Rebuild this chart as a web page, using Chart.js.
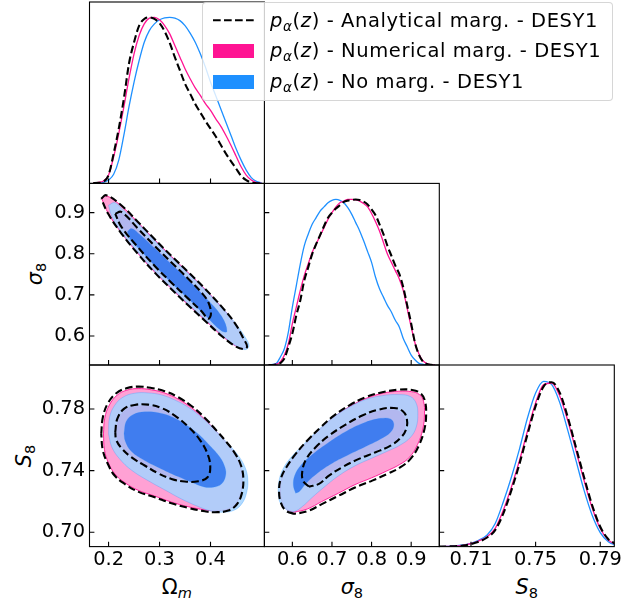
<!DOCTYPE html>
<html><head><meta charset="utf-8">
<script src="https://cdn.jsdelivr.net/npm/chart.js@4.4.1/dist/chart.umd.min.js"></script>
<style>
html,body{margin:0;padding:0;background:#fff;}
#wrap{position:relative;width:632px;height:606px;overflow:hidden;background:#fff;font-family:'DejaVu Sans',sans-serif;color:#000;}
#wrap canvas{position:absolute;left:0;top:0;}
.ax{position:absolute;font-size:20.8px;line-height:20.8px;white-space:nowrap;}
.ax sub{font-size:70%;vertical-align:baseline;position:relative;top:0.28em;}
.it{font-style:italic;}
#legend{position:absolute;left:202px;top:2px;width:411px;height:99px;box-sizing:border-box;border:1px solid rgba(204,204,204,0.8);border-radius:4px;background:rgba(255,255,255,0.8);z-index:10;}
.lt{position:absolute;left:67px;font-size:19.5px;line-height:19.5px;letter-spacing:0.6px;white-space:nowrap;}
.lt sub{font-size:70%;font-style:italic;vertical-align:baseline;position:relative;top:0.3em;}
.patch{position:absolute;left:10px;width:41px;height:14px;}
</style></head>
<body>
<div id="wrap">
  <div class="ax" style="left:176.9px;top:577.4px;transform:translateX(-50%);">Ω<sub class="it">m</sub></div>
  <div class="ax" style="left:351.9px;top:577.4px;transform:translateX(-50%);"><span class="it">σ</span><sub>8</sub></div>
  <div class="ax" style="left:526.8px;top:577.4px;transform:translateX(-50%);"><span class="it">S</span><sub>8</sub></div>
  <div class="ax" style="left:35.5px;top:274.2px;transform:translate(-50%,-50%) rotate(-90deg);"><span class="it">σ</span><sub>8</sub></div>
  <div class="ax" style="left:24.5px;top:455.8px;transform:translate(-50%,-50%) rotate(-90deg);"><span class="it">S</span><sub>8</sub></div>
  <div id="legend">
    <svg style="position:absolute;left:0;top:0;" width="60" height="30"><line x1="10" y1="17.3" x2="51" y2="17.3" stroke="#000" stroke-width="2.1" stroke-dasharray="7.7 3.3"/></svg>
    <div class="patch" style="top:41px;background:rgb(255,20,147);"></div>
    <div class="patch" style="top:72.3px;background:rgb(30,144,255);"></div>
    <div class="lt" style="top:7.5px;"><span class="it">p</span><sub>α</sub>(<span class="it">z</span>) - Analytical marg. - DESY1</div>
    <div class="lt" style="top:38.2px;"><span class="it">p</span><sub>α</sub>(<span class="it">z</span>) - Numerical marg. - DESY1</div>
    <div class="lt" style="top:68.8px;"><span class="it">p</span><sub>α</sub>(<span class="it">z</span>) - No marg. - DESY1</div>
  </div>
</div>
<script>
// ---------------- data ----------------
const OMEGA_TICKS = [0.2, 0.3, 0.4];
const OMEGA_TICK_LABELS = ['0.2', '0.3', '0.4'];
const SIGMA8_TICKS = [0.6, 0.7, 0.8, 0.9];
const SIGMA8_TICK_LABELS = ['0.6', '0.7', '0.8', '0.9'];
const S8_Y_TICKS = [0.70, 0.74, 0.78];
const S8_Y_TICK_LABELS = ['0.70', '0.74', '0.78'];
const S8_X_TICKS = [0.71, 0.75, 0.79];
const S8_X_TICK_LABELS = ['0.71', '0.75', '0.79'];

// 1D marginals (normalised to peak 1)
const OMEGA_GRID = [0.17,0.18,0.19,0.20,0.21,0.22,0.23,0.24,0.25,0.26,0.27,0.28,0.29,0.30,0.31,0.32,0.33,0.34,0.35,0.36,0.37,0.38,0.39,0.40,0.41,0.42,0.43,0.44,0.45,0.46,0.47,0.48,0.49,0.50];
const OMEGA_1D_ANALYTICAL = [0.002,0.003,0.01,0.05,0.18,0.33,0.51,0.72,0.85,0.95,0.99,1.0,0.99,0.965,0.915,0.846,0.76,0.68,0.60,0.54,0.478,0.427,0.376,0.33,0.284,0.233,0.18,0.134,0.09,0.045,0.02,0.005,0.001,0.0];
const OMEGA_1D_NUMERICAL = [0.003,0.006,0.015,0.05,0.16,0.30,0.46,0.63,0.78,0.89,0.96,0.995,1.0,0.985,0.95,0.90,0.83,0.76,0.69,0.63,0.575,0.53,0.48,0.44,0.39,0.345,0.29,0.23,0.165,0.10,0.05,0.02,0.005,0.0];
const OMEGA_1D_NOMARG = [0.0,0.002,0.006,0.02,0.055,0.14,0.29,0.46,0.61,0.74,0.85,0.92,0.96,0.985,0.997,1.0,0.995,0.98,0.95,0.905,0.85,0.78,0.70,0.61,0.53,0.45,0.37,0.29,0.21,0.14,0.08,0.035,0.012,0.003];

const SIGMA8_GRID = [0.54,0.55,0.56,0.57,0.58,0.59,0.60,0.61,0.62,0.63,0.64,0.65,0.66,0.67,0.68,0.69,0.70,0.71,0.72,0.73,0.74,0.75,0.76,0.77,0.78,0.79,0.80,0.81,0.82,0.83,0.84,0.85,0.86,0.87,0.88,0.89,0.90,0.91,0.92,0.93,0.94,0.95,0.96];
const SIGMA8_1D_ANALYTICAL = [0,0,0.003,0.012,0.04,0.11,0.19,0.30,0.39,0.51,0.59,0.67,0.73,0.785,0.84,0.89,0.92,0.945,0.965,0.985,0.993,0.997,1.0,0.997,0.987,0.97,0.94,0.905,0.85,0.79,0.72,0.66,0.60,0.55,0.47,0.36,0.25,0.13,0.06,0.02,0.006,0.001,0];
const SIGMA8_1D_NUMERICAL = [0,0.001,0.005,0.02,0.06,0.13,0.25,0.35,0.45,0.54,0.61,0.68,0.73,0.78,0.83,0.88,0.92,0.955,0.98,0.99,1.0,1.0,0.997,0.99,0.975,0.955,0.915,0.865,0.81,0.74,0.67,0.62,0.57,0.52,0.45,0.34,0.23,0.13,0.065,0.025,0.008,0.002,0];
const SIGMA8_1D_NOMARG = [0,0.003,0.01,0.05,0.10,0.20,0.35,0.48,0.61,0.72,0.79,0.85,0.89,0.93,0.955,0.98,0.995,1.0,0.995,0.98,0.95,0.91,0.86,0.81,0.75,0.685,0.62,0.53,0.46,0.41,0.36,0.32,0.27,0.23,0.16,0.11,0.06,0.03,0.01,0.004,0.001,0,0];

const S8_GRID = [0.690,0.695,0.700,0.705,0.710,0.715,0.720,0.725,0.730,0.735,0.740,0.745,0.750,0.755,0.760,0.765,0.770,0.775,0.780,0.785,0.790,0.795,0.800];
const S8_1D_ANALYTICAL = [0,0.001,0.002,0.006,0.015,0.03,0.055,0.10,0.20,0.34,0.50,0.68,0.85,0.97,0.995,0.93,0.78,0.60,0.42,0.25,0.12,0.045,0.015];
const S8_1D_NUMERICAL = [0,0.001,0.003,0.008,0.018,0.035,0.06,0.11,0.22,0.36,0.52,0.70,0.87,0.98,0.99,0.91,0.76,0.58,0.40,0.235,0.11,0.04,0.012];
const S8_1D_NOMARG = [0,0.001,0.004,0.01,0.02,0.04,0.07,0.14,0.27,0.42,0.59,0.78,0.93,1.0,0.98,0.87,0.70,0.52,0.34,0.19,0.085,0.03,0.008];

// 2D contours [x, y] — Omega_m vs sigma_8
const OM_SIG_ANA_95 = [[0.1856,0.9341],[0.1954,0.9422],[0.2249,0.9178],[0.2577,0.8773],[0.2906,0.8351],[0.3234,0.7946],[0.3562,0.7556],[0.3890,0.7151],[0.4218,0.6713],[0.4480,0.6307],[0.4644,0.5942],[0.4717,0.5740],[0.4644,0.5683],[0.4480,0.5756],[0.4218,0.5999],[0.3890,0.6372],[0.3562,0.6745],[0.3234,0.7135],[0.2906,0.7540],[0.2577,0.7994],[0.2249,0.8497],[0.1987,0.8984]];
const OM_SIG_ANA_68 = [[0.2131,0.8968],[0.2249,0.9016],[0.2577,0.8611],[0.2906,0.8189],[0.3234,0.7784],[0.3562,0.7394],[0.3824,0.7054],[0.3955,0.6826],[0.4008,0.6543],[0.3955,0.6421],[0.3824,0.6599],[0.3562,0.6908],[0.3234,0.7297],[0.2906,0.7702],[0.2577,0.8157],[0.2249,0.8659]];
const OM_SIG_NUM_95 = [[0.1868,0.9335],[0.1958,0.9408],[0.2249,0.9165],[0.2577,0.8760],[0.2906,0.8338],[0.3234,0.7933],[0.3562,0.7543],[0.3890,0.7138],[0.4218,0.6700],[0.4470,0.6305],[0.4630,0.5948],[0.4700,0.5748],[0.4635,0.5695],[0.4475,0.5770],[0.4218,0.6012],[0.3890,0.6385],[0.3562,0.6758],[0.3234,0.7148],[0.2906,0.7553],[0.2577,0.8007],[0.2249,0.8510],[0.1995,0.8980]];
const OM_SIG_NUM_68 = [[0.2150,0.8960],[0.2249,0.8995],[0.2577,0.8590],[0.2906,0.8170],[0.3234,0.7765],[0.3562,0.7375],[0.3824,0.7035],[0.3945,0.6815],[0.3990,0.6550],[0.3940,0.6440],[0.3824,0.6620],[0.3562,0.6928],[0.3234,0.7316],[0.2906,0.7720],[0.2577,0.8176],[0.2249,0.8675]];
const OM_SIG_NOM_95 = [[0.2000,0.9178],[0.2118,0.9243],[0.2249,0.9114],[0.2577,0.8732],[0.2906,0.8319],[0.3234,0.7913],[0.3562,0.7524],[0.3890,0.7127],[0.4218,0.6697],[0.4480,0.6324],[0.4677,0.5975],[0.4756,0.5756],[0.4677,0.5667],[0.4480,0.5772],[0.4218,0.6032],[0.3890,0.6405],[0.3562,0.6778],[0.3234,0.7167],[0.2906,0.7573],[0.2577,0.8027],[0.2249,0.8530],[0.2066,0.8903]];
const OM_SIG_NOM_68 = [[0.2368,0.8530],[0.2446,0.8611],[0.2577,0.8505],[0.2906,0.8132],[0.3234,0.7743],[0.3562,0.7362],[0.3890,0.6948],[0.4218,0.6478],[0.4323,0.6113],[0.4218,0.6121],[0.3890,0.6510],[0.3562,0.6908],[0.3234,0.7289],[0.2906,0.7711],[0.2577,0.8148],[0.2446,0.8303]];

// Omega_m vs S_8
const OM_S8_ANA_95 = [[0.1856,0.7638],[0.1888,0.7746],[0.1987,0.7837],[0.2151,0.7902],[0.2348,0.7934],[0.2577,0.7945],[0.2840,0.7936],[0.3102,0.7915],[0.3365,0.7876],[0.3627,0.7819],[0.3890,0.7742],[0.4119,0.7659],[0.4316,0.7584],[0.4480,0.7512],[0.4598,0.7433],[0.4644,0.7346],[0.4612,0.7249],[0.4513,0.7180],[0.4349,0.7141],[0.4087,0.7130],[0.3890,0.7136],[0.3562,0.7158],[0.3234,0.7188],[0.2906,0.7227],[0.2577,0.7264],[0.2315,0.7314],[0.2118,0.7368],[0.1987,0.7443],[0.1888,0.7530]];
const OM_S8_ANA_68 = [[0.2131,0.7649],[0.2171,0.7735],[0.2302,0.7800],[0.2512,0.7826],[0.2774,0.7828],[0.3037,0.7806],[0.3299,0.7757],[0.3562,0.7685],[0.3791,0.7599],[0.3942,0.7508],[0.3995,0.7422],[0.3942,0.7357],[0.3759,0.7331],[0.3496,0.7329],[0.3234,0.7346],[0.2971,0.7383],[0.2709,0.7433],[0.2446,0.7487],[0.2249,0.7547],[0.2151,0.7599]];
const OM_S8_NUM_95 = [[0.1900,0.7638],[0.1925,0.7740],[0.2015,0.7825],[0.2170,0.7890],[0.2360,0.7922],[0.2580,0.7932],[0.2840,0.7924],[0.3102,0.7903],[0.3365,0.7864],[0.3627,0.7808],[0.3890,0.7732],[0.4119,0.7650],[0.4316,0.7577],[0.4470,0.7508],[0.4580,0.7433],[0.4620,0.7346],[0.4590,0.7252],[0.4495,0.7185],[0.4340,0.7150],[0.4087,0.7140],[0.3890,0.7145],[0.3562,0.7166],[0.3234,0.7196],[0.2906,0.7235],[0.2577,0.7273],[0.2315,0.7323],[0.2125,0.7378],[0.1998,0.7450],[0.1920,0.7535]];
const OM_S8_NUM_68 = [[0.2157,0.7649],[0.2197,0.7729],[0.2315,0.7789],[0.2512,0.7815],[0.2774,0.7817],[0.3037,0.7796],[0.3299,0.7746],[0.3549,0.7677],[0.3759,0.7595],[0.3903,0.7508],[0.3942,0.7426],[0.3890,0.7365],[0.3726,0.7342],[0.3496,0.7340],[0.3234,0.7357],[0.2971,0.7391],[0.2709,0.7439],[0.2459,0.7491],[0.2276,0.7547],[0.2184,0.7599]];
const OM_S8_NOM_95 = [[0.2000,0.7638],[0.2020,0.7746],[0.2118,0.7822],[0.2282,0.7876],[0.2512,0.7902],[0.2774,0.7904],[0.3037,0.7891],[0.3299,0.7858],[0.3562,0.7811],[0.3824,0.7746],[0.4087,0.7664],[0.4349,0.7573],[0.4546,0.7497],[0.4677,0.7422],[0.4730,0.7346],[0.4710,0.7260],[0.4612,0.7184],[0.4448,0.7141],[0.4218,0.7130],[0.4021,0.7136],[0.3759,0.7167],[0.3430,0.7216],[0.3102,0.7275],[0.2774,0.7335],[0.2446,0.7404],[0.2217,0.7476],[0.2066,0.7551]];
const OM_S8_NOM_68 = [[0.2302,0.7640],[0.2348,0.7720],[0.2479,0.7763],[0.2709,0.7781],[0.2971,0.7776],[0.3234,0.7750],[0.3496,0.7703],[0.3759,0.7638],[0.3988,0.7562],[0.4185,0.7487],[0.4283,0.7422],[0.4297,0.7368],[0.4218,0.7314],[0.4054,0.7292],[0.3857,0.7296],[0.3627,0.7324],[0.3365,0.7361],[0.3037,0.7411],[0.2709,0.7465],[0.2446,0.7525],[0.2328,0.7590]];

// sigma_8 vs S_8
const SIG_S8_ANA_95 = [[0.6042,0.7119],[0.5832,0.7141],[0.5706,0.7195],[0.5664,0.7270],[0.5706,0.7346],[0.5849,0.7422],[0.6084,0.7508],[0.6378,0.7595],[0.6714,0.7681],[0.7050,0.7757],[0.7429,0.7822],[0.7849,0.7876],[0.8269,0.7908],[0.8689,0.7925],[0.9025,0.7923],[0.9235,0.7902],[0.9345,0.7854],[0.9378,0.7768],[0.9336,0.7670],[0.9193,0.7562],[0.8983,0.7476],[0.8731,0.7422],[0.8395,0.7378],[0.8017,0.7335],[0.7597,0.7292],[0.7176,0.7238],[0.6756,0.7184],[0.6378,0.7136]];
const SIG_S8_ANA_68 = [[0.6420,0.7296],[0.6269,0.7335],[0.6252,0.7400],[0.6353,0.7476],[0.6588,0.7551],[0.6924,0.7627],[0.7345,0.7698],[0.7765,0.7757],[0.8185,0.7796],[0.8563,0.7806],[0.8790,0.7785],[0.8891,0.7735],[0.8874,0.7670],[0.8731,0.7612],[0.8479,0.7562],[0.8101,0.7519],[0.7681,0.7476],[0.7261,0.7422],[0.6924,0.7368],[0.6672,0.7314]];
const SIG_S8_NUM_95 = [[0.6042,0.7130],[0.5849,0.7151],[0.5731,0.7206],[0.5697,0.7275],[0.5731,0.7346],[0.5874,0.7422],[0.6101,0.7504],[0.6395,0.7588],[0.6731,0.7675],[0.7067,0.7750],[0.7445,0.7815],[0.7866,0.7869],[0.8286,0.7902],[0.8689,0.7915],[0.9008,0.7912],[0.9210,0.7893],[0.9311,0.7850],[0.9336,0.7768],[0.9294,0.7670],[0.9160,0.7569],[0.8958,0.7487],[0.8706,0.7439],[0.8370,0.7396],[0.8000,0.7353],[0.7580,0.7309],[0.7160,0.7253],[0.6739,0.7199],[0.6378,0.7151]];
const SIG_S8_NUM_68 = [[0.6437,0.7309],[0.6311,0.7344],[0.6303,0.7400],[0.6395,0.7469],[0.6613,0.7543],[0.6950,0.7618],[0.7361,0.7690],[0.7782,0.7746],[0.8185,0.7785],[0.8546,0.7794],[0.8756,0.7774],[0.8840,0.7729],[0.8824,0.7670],[0.8689,0.7616],[0.8454,0.7571],[0.8084,0.7528],[0.7664,0.7484],[0.7244,0.7433],[0.6908,0.7378],[0.6655,0.7327]];
const SIG_S8_NOM_95 = [[0.5874,0.7141],[0.5706,0.7184],[0.5647,0.7249],[0.5664,0.7335],[0.5765,0.7411],[0.5983,0.7491],[0.6294,0.7573],[0.6630,0.7659],[0.7008,0.7742],[0.7429,0.7811],[0.7849,0.7861],[0.8269,0.7886],[0.8689,0.7893],[0.8983,0.7880],[0.9126,0.7837],[0.9168,0.7768],[0.9126,0.7681],[0.8983,0.7616],[0.8731,0.7567],[0.8395,0.7525],[0.8017,0.7482],[0.7597,0.7433],[0.7176,0.7368],[0.6798,0.7292],[0.6504,0.7227],[0.6252,0.7167],[0.6042,0.7134]];
const SIG_S8_NOM_68 = [[0.6084,0.7253],[0.6025,0.7303],[0.6059,0.7368],[0.6210,0.7433],[0.6504,0.7504],[0.6924,0.7584],[0.7387,0.7659],[0.7849,0.7714],[0.8227,0.7739],[0.8479,0.7735],[0.8563,0.7698],[0.8479,0.7649],[0.8227,0.7605],[0.7849,0.7556],[0.7429,0.7504],[0.7008,0.7448],[0.6630,0.7383],[0.6336,0.7314],[0.6185,0.7266]];

// ---------------- styling ----------------
const W = 632, H = 606;
const FONT = "'DejaVu Sans', sans-serif";
const PINK = 'rgb(255,20,147)';
const BLUE = 'rgb(30,144,255)';
const PINK_OUTER_FILL = 'rgb(255,161,212)';
const PINK_INNER_FILL = 'rgb(255,20,147)';
const BLUE_OUTER_FILL = 'rgba(165,211,255,0.85)';
const BLUE_INNER_FILL = 'rgba(43,115,239,0.85)';
const DASH = [7.5, 3.5];
const COLS = [89.5, 264.4, 439.3, 614.3];
const ROWS = [2, 183.4, 365, 546.6];
const OMEGA_RANGE = [0.1626, 0.5057];
const SIGMA8_RANGE = [0.5294, 0.9710];
const S8_X_RANGE = [0.6904, 0.7987];
const S8_Y_RANGE = [0.6907, 0.8085];

Chart.defaults.font.family = FONT;

const wrap = document.getElementById('wrap');

function pts(arr) { const d = arr.map(p => ({x: p[0], y: p[1]})); d.push({x: arr[0][0], y: arr[0][1]}); return d; }
function curve(xs, ys, color, dashed) {
  return { data: xs.map((x, i) => ({x, y: ys[i]})), showLine: true, borderColor: color,
    borderWidth: dashed ? 2.1 : 1.3, borderDash: dashed ? DASH : [], pointRadius: 0, fill: false,
    cubicInterpolationMode: 'monotone' };
}
function region(arr, fillColor, lineColor, lw) {
  return { data: pts(arr), showLine: true, fill: 'shape', backgroundColor: fillColor,
    borderColor: lineColor, borderWidth: lw, pointRadius: 0, tension: 0.4 };
}
function dashLoop(arr) {
  return { data: pts(arr), showLine: true, fill: false, borderColor: '#000', borderWidth: 2.1,
    borderDash: DASH, pointRadius: 0, tension: 0.4 };
}
function contourSets(ana95, ana68, num95, num68, nom95, nom68) {
  return [
    dashLoop(ana95), dashLoop(ana68),
    region(nom68, BLUE_INNER_FILL, 'rgba(30,144,255,0.3)', 0.6),
    region(nom95, BLUE_OUTER_FILL, 'rgba(30,144,255,0.35)', 0.8),
    region(num68, PINK_INNER_FILL, PINK, 0.8),
    region(num95, PINK_OUTER_FILL, PINK, 0.9)
  ];
}

function axisCfg(range, ticks, labels, show, isX, fixedSize) {
  const c = {
    type: 'linear', min: range[0], max: range[1], display: show,
    grid: { display: false, drawTicks: false }, border: { display: false },
    ticks: { color: '#000', font: { family: FONT, size: 19.4 }, padding: isX ? 1.8 : 4.5,
      autoSkip: false, maxRotation: 0, minRotation: 0,
      callback: (v, i) => labels ? labels[i] : '' },
    afterBuildTicks: s => { s.ticks = (ticks || []).map(v => ({ value: v })); }
  };
  if (show) c.afterFit = s => { if (isX) s.height = fixedSize; else s.width = fixedSize; };
  return c;
}

function addPanel(col, row, o) {
  const cv = document.createElement('canvas');
  cv.width = W; cv.height = H;
  cv.style.width = W + 'px'; cv.style.height = H + 'px';
  wrap.insertBefore(cv, document.getElementById('legend'));
  const x0 = COLS[col], x1 = COLS[col + 1], y0 = ROWS[row], y1 = ROWS[row + 1];
  const yW = o.yLabels ? 60 : 0, xH = o.xLabels ? 40 : 0;
  const frame = {
    id: 'frame',
    afterDatasetsDraw(chart) {
      const { ctx, chartArea: a, scales } = chart;
      ctx.save();
      ctx.strokeStyle = '#000'; ctx.lineWidth = 1.1; ctx.setLineDash([]);
      ctx.strokeRect(a.left, a.top, a.right - a.left, a.bottom - a.top);
      ctx.beginPath();
      (o.xMarks || []).forEach(v => { const p = scales.x.getPixelForValue(v); ctx.moveTo(p, a.bottom); ctx.lineTo(p, a.bottom - 4.9); });
      const ys = scales[o.yMarkAxis || 'y'];
      (o.yMarks || []).forEach(v => { const p = ys.getPixelForValue(v); ctx.moveTo(a.left, p); ctx.lineTo(a.left + 4.9, p); });
      ctx.stroke();
      ctx.restore();
    }
  };
  const scales = {
    x: axisCfg(o.xRange, o.xTicks, o.xLabels, !!o.xLabels, true, xH),
    y: axisCfg(o.yRange, o.yTicks, o.yLabels, !!o.yLabels, false, yW)
  };
  if (o.rowRange) scales.yr = { type: 'linear', position: 'left', min: o.rowRange[0], max: o.rowRange[1], display: false };
  new Chart(cv, {
    type: 'scatter',
    data: { datasets: o.datasets },
    options: {
      responsive: false, animation: false, events: [], devicePixelRatio: 1,
      layout: { padding: { left: x0 - yW, top: y0, right: W - x1, bottom: H - y1 - xH } },
      plugins: { legend: { display: false }, tooltip: { enabled: false } },
      scales
    },
    plugins: [frame]
  });
}

// Row 1: Omega_m 1D
addPanel(0, 0, {
  xRange: OMEGA_RANGE, yRange: [0, 1.092], xMarks: OMEGA_TICKS,
  datasets: [
    curve(OMEGA_GRID, OMEGA_1D_ANALYTICAL, '#000', true),
    curve(OMEGA_GRID, OMEGA_1D_NUMERICAL, PINK, false),
    curve(OMEGA_GRID, OMEGA_1D_NOMARG, BLUE, false)
  ]
});
// Row 2: Omega_m vs sigma_8
addPanel(0, 1, {
  xRange: OMEGA_RANGE, yRange: SIGMA8_RANGE, yTicks: SIGMA8_TICKS, yLabels: SIGMA8_TICK_LABELS,
  xMarks: OMEGA_TICKS, yMarks: SIGMA8_TICKS,
  datasets: contourSets(OM_SIG_ANA_95, OM_SIG_ANA_68, OM_SIG_NUM_95, OM_SIG_NUM_68, OM_SIG_NOM_95, OM_SIG_NOM_68)
});
// Row 2: sigma_8 1D
addPanel(1, 1, {
  xRange: SIGMA8_RANGE, yRange: [0, 1.097], xMarks: SIGMA8_TICKS,
  rowRange: SIGMA8_RANGE, yMarkAxis: 'yr', yMarks: SIGMA8_TICKS,
  datasets: [
    curve(SIGMA8_GRID, SIGMA8_1D_ANALYTICAL, '#000', true),
    curve(SIGMA8_GRID, SIGMA8_1D_NUMERICAL, PINK, false),
    curve(SIGMA8_GRID, SIGMA8_1D_NOMARG, BLUE, false)
  ]
});
// Row 3: Omega_m vs S_8
addPanel(0, 2, {
  xRange: OMEGA_RANGE, yRange: S8_Y_RANGE, xTicks: OMEGA_TICKS, xLabels: OMEGA_TICK_LABELS,
  yTicks: S8_Y_TICKS, yLabels: S8_Y_TICK_LABELS, xMarks: OMEGA_TICKS, yMarks: S8_Y_TICKS,
  datasets: contourSets(OM_S8_ANA_95, OM_S8_ANA_68, OM_S8_NUM_95, OM_S8_NUM_68, OM_S8_NOM_95, OM_S8_NOM_68)
});
// Row 3: sigma_8 vs S_8
addPanel(1, 2, {
  xRange: SIGMA8_RANGE, yRange: S8_Y_RANGE, xTicks: SIGMA8_TICKS, xLabels: SIGMA8_TICK_LABELS,
  xMarks: SIGMA8_TICKS, yMarks: S8_Y_TICKS,
  datasets: contourSets(SIG_S8_ANA_95, SIG_S8_ANA_68, SIG_S8_NUM_95, SIG_S8_NUM_68, SIG_S8_NOM_95, SIG_S8_NOM_68)
});
// Row 3: S_8 1D
addPanel(2, 2, {
  xRange: S8_X_RANGE, yRange: [0, 1.099], xTicks: S8_X_TICKS, xLabels: S8_X_TICK_LABELS, xMarks: S8_X_TICKS,
  rowRange: S8_Y_RANGE, yMarkAxis: 'yr', yMarks: S8_Y_TICKS,
  datasets: [
    curve(S8_GRID, S8_1D_ANALYTICAL, '#000', true),
    curve(S8_GRID, S8_1D_NUMERICAL, PINK, false),
    curve(S8_GRID, S8_1D_NOMARG, BLUE, false)
  ]
});
</script>
</body></html>
